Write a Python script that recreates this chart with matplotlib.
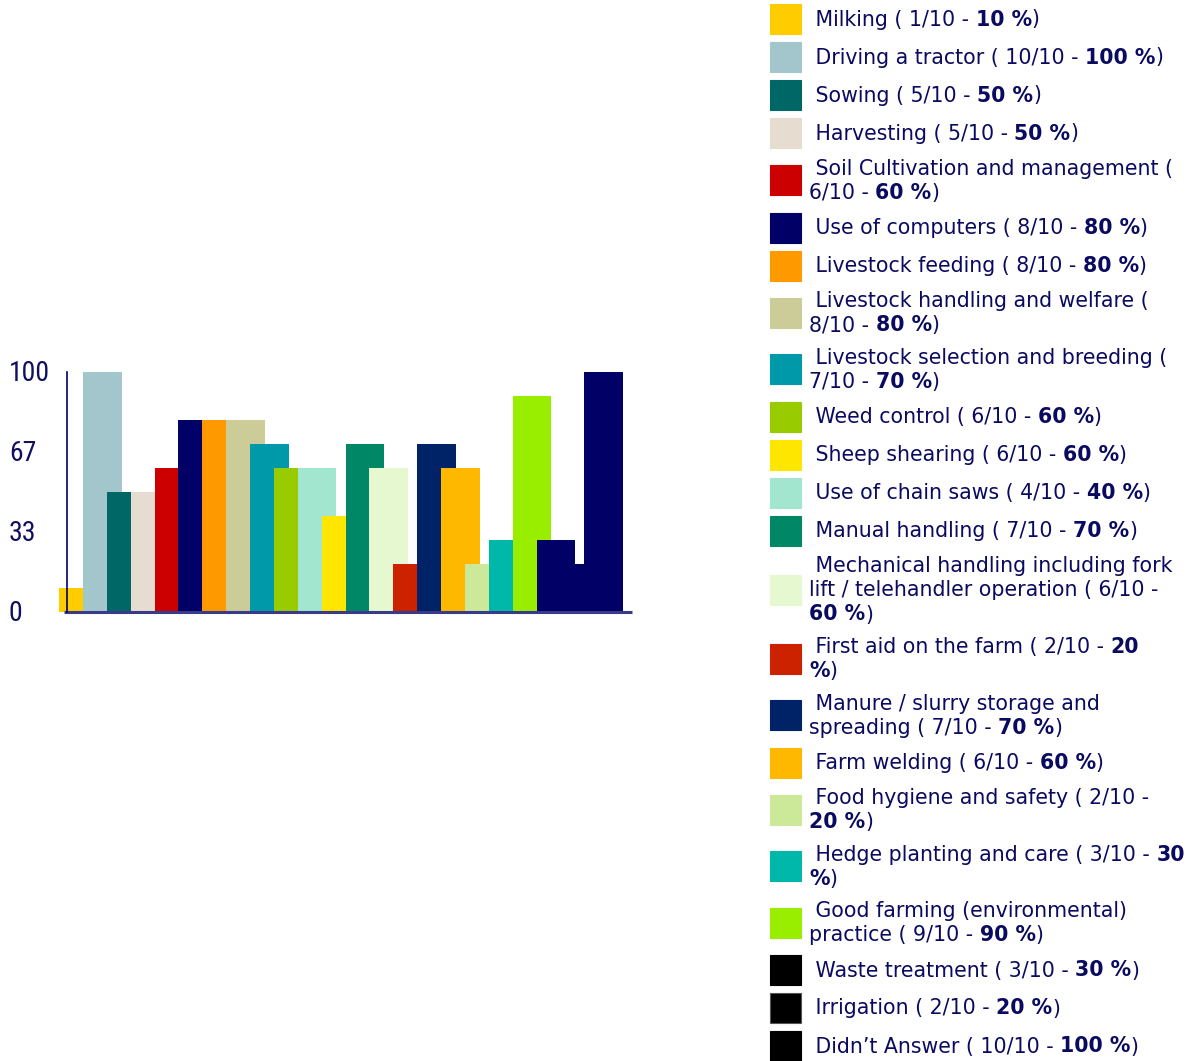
import matplotlib
matplotlib.use('Agg')
import matplotlib.pyplot as plt
from matplotlib.patches import Rectangle

W, H = 1192, 1061

# categories, answers out of 10, and the percent shown in the legend
categories = ['Milking', 'Driving a tractor', 'Sowing', 'Harvesting',
              'Soil Cultivation and management', 'Use of computers',
              'Livestock feeding', 'Livestock handling and welfare',
              'Livestock selection and breeding', 'Weed control',
              'Sheep shearing', 'Use of chain saws', 'Manual handling',
              'Mechanical handling including fork lift / telehandler operation',
              'First aid on the farm', 'Manure / slurry storage and spreading',
              'Farm welding', 'Food hygiene and safety', 'Hedge planting and care',
              'Good farming (environmental) practice', 'Waste treatment',
              'Irrigation', 'Didn\u2019t Answer']
counts = [1, 10, 5, 5, 6, 8, 8, 8, 7, 6, 6, 4, 7, 6, 2, 7, 6, 2, 3, 9, 3, 2, 10]
# bar heights as drawn in the chart (sheep shearing / chain saws are swapped there)
bar_values = [10, 100, 50, 50, 60, 80, 80, 80, 70, 60, 60, 40, 70, 60, 20, 70,
              60, 20, 30, 90, 30, 20, 100]
legend_colors = ['#FFCC00', '#A3C6CC', '#006666', '#E6DCD0', '#CC0000', '#000066',
                 '#FF9900', '#CCCC99', '#0099AA', '#99CC00', '#FFE600', '#A2E6CF',
                 '#008866', '#E6F8CF', '#CC2200', '#002266', '#FFB800', '#CCE899',
                 '#00B8AA', '#99EE00', '#000000', '#000000', '#000000']
bar_colors = ['#FFCC00', '#A3C6CC', '#006666', '#E6DCD0', '#CC0000', '#000066',
              '#FF9900', '#CCCC99', '#0099AA', '#99CC00', '#A2E6CF', '#FFE600',
              '#008866', '#E6F8CF', '#CC2200', '#002266', '#FFB800', '#CCE899',
              '#00B8AA', '#99EE00', '#000066', '#000066', '#000066']
y_ticks = [0, 33.3, 66.7, 100]
y_tick_labels = ['0', '33', '67', '100']

# legend text as it wraps in the original; **...** is bold
legend_lines = [
    [' Milking ( 1/10 - **10 %**)'],
    [' Driving a tractor ( 10/10 - **100 %**)'],
    [' Sowing ( 5/10 - **50 %**)'],
    [' Harvesting ( 5/10 - **50 %**)'],
    [' Soil Cultivation and management (', '6/10 - **60 %**)'],
    [' Use of computers ( 8/10 - **80 %**)'],
    [' Livestock feeding ( 8/10 - **80 %**)'],
    [' Livestock handling and welfare (', '8/10 - **80 %**)'],
    [' Livestock selection and breeding (', '7/10 - **70 %**)'],
    [' Weed control ( 6/10 - **60 %**)'],
    [' Sheep shearing ( 6/10 - **60 %**)'],
    [' Use of chain saws ( 4/10 - **40 %**)'],
    [' Manual handling ( 7/10 - **70 %**)'],
    [' Mechanical handling including fork', 'lift / telehandler operation ( 6/10 -', '**60 %**)'],
    [' First aid on the farm ( 2/10 - **20**', '**%**)'],
    [' Manure / slurry storage and', 'spreading ( 7/10 - **70 %**)'],
    [' Farm welding ( 6/10 - **60 %**)'],
    [' Food hygiene and safety ( 2/10 -', '**20 %**)'],
    [' Hedge planting and care ( 3/10 - **30**', '**%**)'],
    [' Good farming (environmental)', 'practice ( 9/10 - **90 %**)'],
    [' Waste treatment ( 3/10 - **30 %**)'],
    [' Irrigation ( 2/10 - **20 %**)'],
    [' Didn\u2019t Answer ( 10/10 - **100 %**)'],
]

navy = '#0a0a60'

fig = plt.figure(figsize=(W / 100, H / 100), dpi=100)


def fx(px):
    return px / W


def fy(py):
    return 1 - py / H


# ---- bar chart ----
ax = fig.add_axes([fx(59), fy(612), fx(632) - fx(59), fy(372) - fy(612)])
xs = list(range(len(bar_values)))
ax.bar(xs, bar_values, width=1.62, align='edge', color=bar_colors, linewidth=0)
ax.set_xlim(0, 24)
ax.set_ylim(0, 100)
ax.axis('off')
ax.plot([0.2, 24], [0, 0], color='#3a3a8a', lw=2.2, clip_on=False, solid_capstyle='butt')
ax.plot([0.34, 0.34], [0, 100], color='#000066', lw=1.2, clip_on=False)
ytr = matplotlib.transforms.blended_transform_factory(fig.transFigure, ax.transData)
for v, lab in zip(y_ticks, y_tick_labels):
    ax.text(fx(9), v - 0.5, lab, transform=ytr, ha='left', va='center', color='#101060',
            fontsize=20, fontweight='normal', fontstretch='condensed',
            family=['Roboto Condensed', 'Noto Sans Condensed',
                    'Liberation Sans Narrow', 'Liberation Sans'])

# ---- legend ----
fs = 14.8
renderer = fig.canvas.get_renderer()


def seg_width(s, weight):
    a = fig.text(0, 0, s + 'x', fontsize=fs, fontweight=weight)
    b = fig.text(0, 0, 'x', fontsize=fs, fontweight=weight)
    w = a.get_window_extent(renderer).width - b.get_window_extent(renderer).width
    a.remove()
    b.remove()
    return w


def draw_line(x, y, line):
    parts = line.split('**')
    for k, p in enumerate(parts):
        if not p:
            continue
        weight = 'bold' if k % 2 else 'normal'
        fig.text(fx(x), fy(y), p, fontsize=fs, fontweight=weight, color=navy,
                 ha='left', va='center')
        x += seg_width(p, weight)


top = 0
for i, lines in enumerate(legend_lines):
    n = len(lines)
    h = max(38, 24.5 * n + 7.5)
    cy = top + h / 2
    edge = '#555555' if categories[i] == 'Irrigation' else legend_colors[i]
    fig.add_artist(Rectangle((fx(770), fy(cy + 15)), fx(801) - fx(770), 30 / H,
                             transform=fig.transFigure, facecolor=legend_colors[i],
                             edgecolor=edge, lw=0.8))
    for j, line in enumerate(lines):
        ly = cy + (j - (n - 1) / 2) * 24
        draw_line(809, ly + 0.5, line)
    top += h

fig.savefig('out.png', dpi=100)
